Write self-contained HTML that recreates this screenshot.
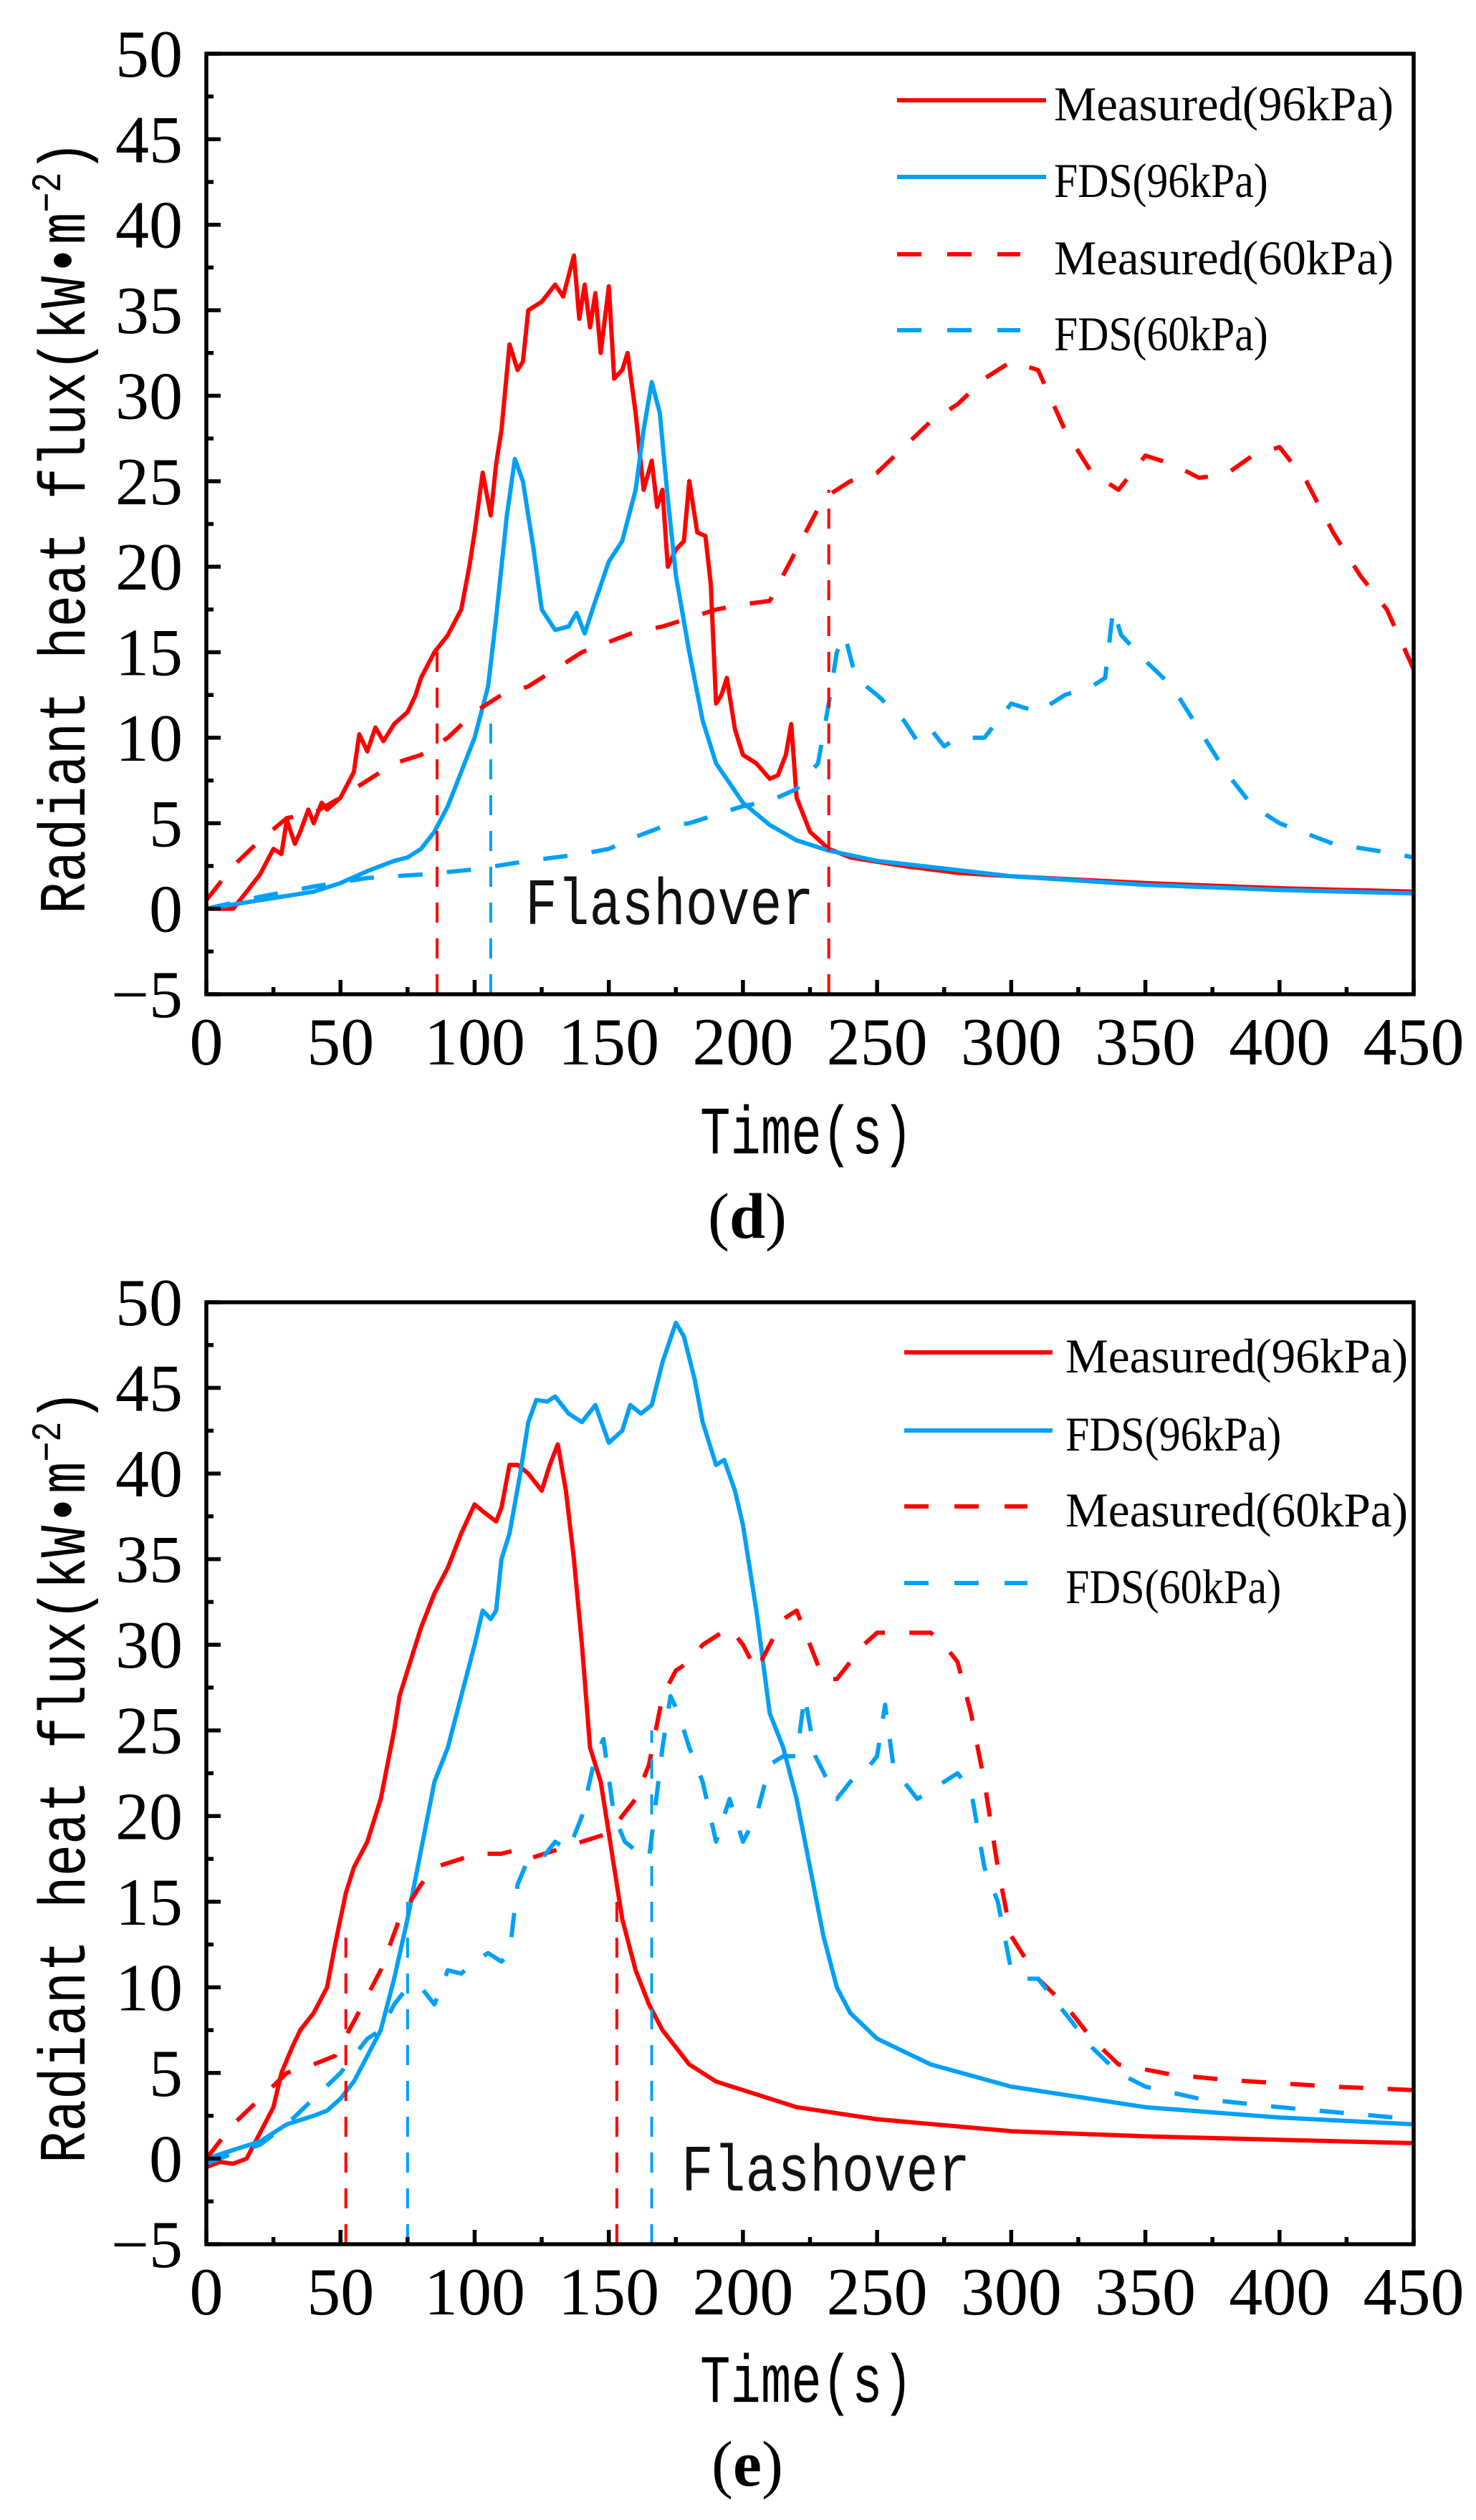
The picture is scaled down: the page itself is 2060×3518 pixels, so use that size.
<!DOCTYPE html>
<html><head><meta charset="utf-8"><style>
html,body{margin:0;padding:0;background:#fff;}
svg{display:block;}
</style></head><body>
<svg id="fig" xmlns="http://www.w3.org/2000/svg" width="2060" height="3518" viewBox="0 0 2060 3518">
<rect x="0" y="0" width="2060" height="3518" fill="#fff"/>
</svg>
<script>
// ---------- data: panel (d) ----------
const dMeas96 = [[0,0],[10,0],[15,1],[20,2],[25,3.5],[28,3.2],[30,5.2],[33,3.8],[35,4.5],[38,5.8],[40,5],[43,6.2],[45,5.8],[50,6.5],[55,8],[57,10.2],[60,9.2],[63,10.6],[66,9.8],[70,10.8],[75,11.5],[78,12.5],[80,13.5],[85,15],[90,16],[95,17.5],[98,20],[100,22],[103,25.5],[106,23],[108,26],[110,28],[113,33],[116,31.5],[118,32],[120,35],[125,35.5],[130,36.5],[133,35.8],[135,37],[137,38.2],[139,34.5],[141,36.5],[143,34],[145,36],[147,32.5],[150,36.4],[152,31],[155,31.5],[157,32.5],[160,29],[163,24.5],[166,26.2],[168,23.5],[170,24.5],[172,20],[175,21],[178,21.5],[180,25],[183,22],[186,21.8],[188,19],[190,12],[192,12.5],[194,13.5],[197,10.5],[200,9],[205,8.5],[210,7.6],[213,7.8],[216,9],[218,10.8],[220,6.5],[225,4.5],[232,3.5],[240,3],[260,2.5],[280,2.1],[300,1.9],[350,1.5],[400,1.2],[450,1.0]];
const dFds96 = [[0,0],[20,0.5],[40,1],[50,1.5],[60,2.2],[70,2.8],[75,3],[80,3.5],[85,4.5],[90,6],[95,8],[100,10],[105,13],[108,17],[112,23],[115,26.3],[118,25],[122,21],[125,17.5],[130,16.3],[135,16.5],[138,17.3],[141,16.1],[145,18],[150,20.3],[155,21.5],[160,24.5],[163,28],[166,30.8],[169,29],[172,24],[175,19.5],[180,15],[185,11],[190,8.5],[200,6.2],[210,4.9],[220,4],[232,3.4],[250,2.8],[300,1.9],[350,1.4],[400,1.1],[450,0.9]];
const dMeas60 = [[0,0.5],[10,2.5],[20,4],[30,5.3],[40,5.6],[50,6.5],[60,7.5],[70,8.5],[80,9],[90,10],[100,11.5],[110,12.5],[120,13],[130,14],[140,15],[150,15.6],[160,16.2],[170,16.5],[180,17],[190,17.5],[200,17.8],[210,18],[220,21],[230,24],[240,25],[250,25.5],[260,27],[270,28.5],[280,29.5],[290,31],[300,32],[310,31.5],[320,28],[330,25.5],[340,24.5],[350,26.5],[360,26],[370,25.2],[380,25.4],[390,26.5],[400,27],[410,25],[420,22],[430,19.5],[440,17.5],[450,14]];
const dFds60 = [[0,0],[20,0.7],[40,1.3],[60,1.8],[80,2],[100,2.3],[120,2.8],[140,3.2],[150,3.5],[160,4.2],[170,4.8],[180,5],[190,5.5],[200,6],[210,6.3],[220,7],[228,8.5],[232,12],[235,15],[238,16],[242,13.5],[250,12.5],[260,11],[265,9.8],[270,10.5],[275,9.5],[280,10],[290,10],[300,12],[310,11.5],[320,12.5],[330,13],[335,13.5],[338,17.5],[341,16],[350,14.5],[360,13],[370,10.5],[380,8],[390,6],[400,5],[420,3.8],[440,3.3],[450,3]];
const dFlash = [[86,15.5,'red'],[106,11.5,'blue'],[232,24.5,'red']];
// ---------- data: panel (e) ----------
const eMeas96 = [[0,-0.5],[5,-0.2],[10,-0.3],[15,0],[20,1.5],[25,3],[28,5],[32,6.5],[35,7.5],[40,8.5],[45,10],[48,12.5],[52,15.5],[55,17],[60,18.5],[65,21],[70,25],[72,27],[75,28.5],[80,31],[85,33],[90,34.5],[95,36.5],[100,38.2],[103,37.8],[108,37.2],[110,38],[113,40.5],[116,40.5],[120,40],[125,39],[128,40.5],[131,41.7],[134,39],[137,35],[140,30],[143,24],[147,22],[150,19],[155,14],[160,11],[165,9],[170,7.5],[180,5.5],[190,4.5],[200,4],[220,3],[250,2.3],[300,1.6],[350,1.3],[400,1.1],[450,0.9]];
const eFds96 = [[0,0],[10,0.5],[20,1],[30,2],[40,2.5],[45,2.8],[50,3.5],[55,4.5],[60,6],[65,7.5],[70,10.5],[75,14],[80,18],[85,22],[90,24],[95,27],[100,30],[103,32],[106,31.5],[108,32],[110,35],[113,36.5],[117,40],[120,43],[123,44.3],[127,44.2],[130,44.5],[135,43.5],[140,43],[145,44],[150,41.8],[155,42.5],[158,44],[162,43.5],[166,44],[170,46.5],[175,48.8],[178,48],[182,45.5],[185,43],[190,40.5],[193,40.8],[197,39],[200,37],[205,32],[210,26],[215,24],[220,21],[225,17],[230,13],[235,10],[240,8.5],[250,7],[270,5.5],[300,4.2],[350,3],[400,2.4],[450,2]];
const eMeas60 = [[0,0],[10,2],[20,3.5],[30,5],[40,5.5],[48,6],[55,8],[65,11],[72,14],[80,16],[85,17],[95,17.5],[100,17.8],[110,17.8],[115,18],[120,17.5],[130,18],[140,18.5],[150,19],[160,21],[165,23],[170,27],[175,28.5],[180,29],[185,30],[190,30.5],[195,31],[200,30],[205,28.5],[210,30],[215,31.5],[220,32],[225,30],[230,28],[235,28],[240,29],[245,30],[250,30.7],[260,30.7],[270,30.7],[275,30],[280,29],[285,26],[290,22],[295,17],[300,13],[310,10.5],[320,9],[330,7],[340,5.5],[360,4.9],[380,4.6],[400,4.4],[420,4.2],[450,4]];
const eFds60 = [[0,-0.3],[10,0.3],[20,0.8],[30,2],[40,3.5],[50,5],[60,7],[65,7.5],[70,9],[75,10],[80,10],[85,9],[90,11],[95,10.8],[100,11.5],[105,12],[110,11.5],[113,12],[116,16],[120,17.5],[125,17.5],[130,18.5],[135,18],[140,20],[145,23.5],[148,24.5],[152,20],[156,18.5],[160,18],[165,17.5],[170,24],[173,27],[176,26],[180,24],[185,22],[190,18.5],[195,21],[200,18.5],[205,20],[210,23],[215,23.5],[220,23.5],[223,27],[227,23.5],[235,21],[240,22],[245,22.5],[250,23.5],[253,26.5],[256,23],[260,22],[265,21],[270,21.5],[280,22.5],[285,21.5],[290,17],[295,15],[300,11],[305,10.5],[310,10.5],[315,9.5],[320,8.5],[330,6.5],[340,5],[350,4.2],[370,3.5],[400,3],[450,2.3]];
const eFlash = [[52,13.5,'red'],[75,15,'blue'],[153,15.5,'red'],[166,25,'blue']];
// ---------- ticks ----------
const xTickLabels = [0,50,100,150,200,250,300,350,400,450];
const yTickLabels = [-5,0,5,10,15,20,25,30,35,40,45,50];
const legendLabels = ['Measured(96kPa)','FDS(96kPa)','Measured(60kPa)','FDS(60kPa)'];

const NS='http://www.w3.org/2000/svg';
const svg=document.getElementById('fig');
const RED='#ff0000', BLUE='#00a0f8';
function mk(tag,attrs,parent){const e=document.createElementNS(NS,tag);for(const k in attrs)e.setAttribute(k,attrs[k]);(parent||svg).appendChild(e);return e;}

function panel(cfg){
  const L=288,R=1973,T=cfg.top,B=cfg.bottom;
  const g=mk('g',{});
  
  
  const sx=v=>L+(v-0)/450*(R-L);
  const sy=v=>B-(v+5)/55*(B-T);
  const series=[[cfg.m96,RED,null,'measured-96kpa-line'],[cfg.f96,BLUE,null,'fds-96kpa-line'],[cfg.m60,RED,'34 34','measured-60kpa-line'],[cfg.f60,BLUE,'34 34','fds-60kpa-line']];
  series.forEach(s=>{
    const d=s[0].map((p,i)=>(i?'L':'M')+sx(p[0]).toFixed(1)+' '+sy(p[1]).toFixed(1)).join(' ');
    const p=mk('path',{d:d,fill:'none',stroke:s[1],'stroke-width':6,'stroke-linejoin':'round'},g);
    if(s[2])p.setAttribute('stroke-dasharray',s[2]);
    
    
  });
  cfg.flash.forEach(f=>{
    const l=mk('line',{x1:sx(f[0]),x2:sx(f[0]),y1:B,y2:sy(f[1]),stroke:f[2]==='red'?RED:BLUE,'stroke-width':4,'stroke-dasharray':'28 22'},g);
    
    
  });
  const box=mk('rect',{x:L,y:T,width:R-L,height:B-T,fill:'none',stroke:'#000','stroke-width':5.5},g);
  
  
  xTickLabels.forEach(v=>{
    mk('line',{x1:sx(v),x2:sx(v),y1:B,y2:B-20,stroke:'#000','stroke-width':5.5},g);
    if(v<450)mk('line',{x1:sx(v+25),x2:sx(v+25),y1:B,y2:B-10,stroke:'#000','stroke-width':5.5},g);
    const t=mk('text',{x:sx(v),y:B+98,'text-anchor':'middle','font-family':'Liberation Serif, serif','font-size':94},g);
    t.textContent=v;
    
    
  });
  yTickLabels.forEach(v=>{
    mk('line',{x1:L,x2:L+20,y1:sy(v),y2:sy(v),stroke:'#000','stroke-width':5.5},g);
    if(v<50)mk('line',{x1:L,x2:L+10,y1:sy(v+2.5),y2:sy(v+2.5),stroke:'#000','stroke-width':5.5},g);
    const t=mk('text',{x:255,y:sy(v)+32,'text-anchor':'end','font-family':'Liberation Serif, serif','font-size':94},g);
    t.textContent=v<0?'\u2212'+(-v):v;
    
    
  });
  legendLabels.forEach((lab,i)=>{
    const y=cfg.legY[i];
    const ln=mk('line',{x1:cfg.legX1,x2:cfg.legX2,y1:y,y2:y,stroke:i%2?BLUE:RED,'stroke-width':6},g);
    if(i>=2){ln.setAttribute('stroke-dasharray','34 36');ln.setAttribute('x2',cfg.legX1+172);}
    
    
    const t=mk('text',{x:cfg.legTX,y:y+28,'font-family':'Liberation Serif, serif','font-size':68,textLength:lab.startsWith('M')?cfg.legW:cfg.legW*0.63,lengthAdjust:'spacingAndGlyphs'},g);
    t.textContent=lab;
    
    
  });
  const fl=mk('text',{x:cfg.flX,y:cfg.flY,'font-family':'Liberation Mono, monospace','font-size':92,textLength:403,lengthAdjust:'spacingAndGlyphs',fill:'#111'},g);
  fl.textContent='Flashover';
  
  
  const xt=mk('text',{x:977,y:cfg.xtY,'font-family':'Liberation Mono, monospace','font-size':95,textLength:297,lengthAdjust:'spacingAndGlyphs'},g);
  xt.textContent='Time(s)';
  
  
  const yt=mk('text',{x:0,y:0,transform:`translate(118 ${cfg.ytC}) rotate(-90)`,'text-anchor':'middle','font-family':'Liberation Mono, monospace','font-size':92,textLength:1080,lengthAdjust:'spacingAndGlyphs'},g);
  yt.innerHTML='Radiant heat flux(kW\u2022m<tspan dy="-34" font-size="58">\u22122</tspan><tspan dy="34">)</tspan>';
  
  
  const cap=mk('text',{x:1043,y:cfg.capY,'text-anchor':'middle','font-family':'Liberation Serif, serif','font-size':90},g);
  cap.innerHTML='(<tspan font-weight="bold">'+cfg.cap+'</tspan>)';
  
  
}

panel({name:'chart-d',top:75,bottom:1388,m96:dMeas96,f96:dFds96,m60:dMeas60,f60:dFds60,flash:dFlash,
  legX1:1252,legX2:1460,legTX:1471,legW:474,legY:[140,247,355,461],flX:733,flY:1290,xtY:1610,ytC:736,capY:1728,cap:'d'});
panel({name:'chart-e',top:1818,bottom:3133,m96:eMeas96,f96:eFds96,m60:eMeas60,f60:eFds60,flash:eFlash,
  legX1:1262,legX2:1469,legTX:1487,legW:478,legY:[1888,1997,2103,2210],flX:951,flY:3058,xtY:3353,ytC:2480,capY:3470,cap:'e'});
</script>
</body></html>
